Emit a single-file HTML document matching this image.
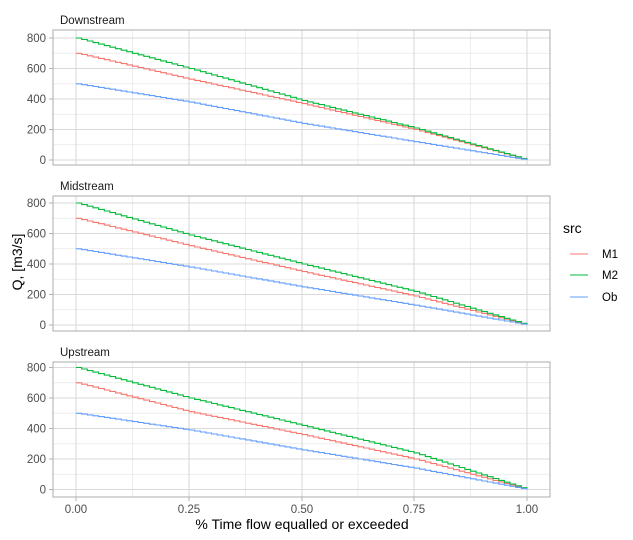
<!DOCTYPE html>
<html><head><style>body{margin:0;background:#fff}svg{display:block;font-family:"Liberation Sans",Arial,sans-serif}</style></head>
<body>
<svg id="s" width="633" height="540" xmlns="http://www.w3.org/2000/svg">
<rect width="633" height="540" fill="#fff"/>
<g id="panels"></g>
<g font-size="11.5" fill="#4d4d4d" text-anchor="middle">
<text x="76" y="513">0.00</text><text x="189" y="513">0.25</text><text x="302" y="513">0.50</text><text x="414" y="513">0.75</text><text x="527" y="513">1.00</text>
</g>
<text x="302" y="529" font-size="14" text-anchor="middle" fill="#000">% Time flow equalled or exceeded</text>
<text transform="translate(22,262) rotate(-90)" font-size="14" text-anchor="middle" fill="#000">Q, [m3/s]</text>
<text x="563" y="233" font-size="14" fill="#000">src</text>
<line x1="570" y1="254" x2="588" y2="254" stroke="#F8766D"/>
<line x1="570" y1="275" x2="588" y2="275" stroke="#00BA38"/>
<line x1="570" y1="297" x2="588" y2="297" stroke="#619CFF"/>
<g font-size="11.5" fill="#000"><text x="602" y="258">M1</text><text x="602" y="279">M2</text><text x="602" y="301">Ob</text></g>
</svg>
<script>
var ns="http://www.w3.org/2000/svg",g=document.getElementById("panels");
function el(t,a,txt){var e=document.createElementNS(ns,t);for(var k in a)e.setAttribute(k,a[k]);if(txt)e.textContent=txt;g.appendChild(e);return e;}
var P=[{n:"Downstream",top:30,z:160,d:[[700,530,370,200,0],[800,600,390,210,0],[500,380,240,120,0]]},
{n:"Midstream",top:196,z:325,d:[[700,520,350,190,0],[800,590,400,220,0],[500,380,250,130,0]]},
{n:"Upstream",top:362,z:489.5,d:[[700,510,360,200,0],[800,600,420,240,0],[500,390,260,140,0]]}];
var xs=[76,189,302,414,527],cols=["#F8766D","#00BA38","#619CFF"],L=53,R=550;
P.forEach(function(p){
 var b=p.top+135,k=0.1525;
 el("text",{x:60,y:p.top-6,"font-size":"11.5",fill:"#1a1a1a"},p.n);
 for(var v=100;v<=700;v+=200)el("line",{x1:L,x2:R,y1:p.z-v*k,y2:p.z-v*k,stroke:"#e6e6e6","stroke-width":0.7});
 [132.5,245.5,358,470.5].forEach(function(x){el("line",{x1:x,x2:x,y1:p.top,y2:b,stroke:"#e6e6e6","stroke-width":0.7});});
 for(var v=0;v<=800;v+=200){var y=p.z-v*k;el("line",{x1:L,x2:R,y1:y,y2:y,stroke:"#dadada","stroke-width":1.1});
  el("line",{x1:49,x2:53,y1:y,y2:y,stroke:"#b3b3b3"});
  el("text",{x:46,y:y+4,"font-size":"11.5",fill:"#4d4d4d","text-anchor":"end"},""+v);}
 xs.forEach(function(x){el("line",{x1:x,x2:x,y1:p.top,y2:b,stroke:"#dadada","stroke-width":1.1});});
 if(p.n=="Upstream")xs.forEach(function(x){el("line",{x1:x,x2:x,y1:b,y2:b+4,stroke:"#b3b3b3"});});
 p.d.forEach(function(s,i){var pts=[];
  for(var j=0;j<4;j++){for(var t=0;t<20;t++){var f=t/20,x=xs[j]+(xs[j+1]-xs[j])*f,v=s[j]+(s[j+1]-s[j])*f;
   var y=p.z-v*k;pts.push(x.toFixed(1)+","+y.toFixed(1));pts.push((x+(xs[j+1]-xs[j])/20).toFixed(1)+","+y.toFixed(1));}}
  pts.push(xs[4]+","+p.z);
  el("polyline",{points:pts.join(" "),fill:"none",stroke:cols[i],"stroke-width":1.1});});
 el("rect",{x:L,y:p.top,width:R-L,height:135,fill:"none",stroke:"#b3b3b3","stroke-width":1.1});
});
</script>
</body></html>
